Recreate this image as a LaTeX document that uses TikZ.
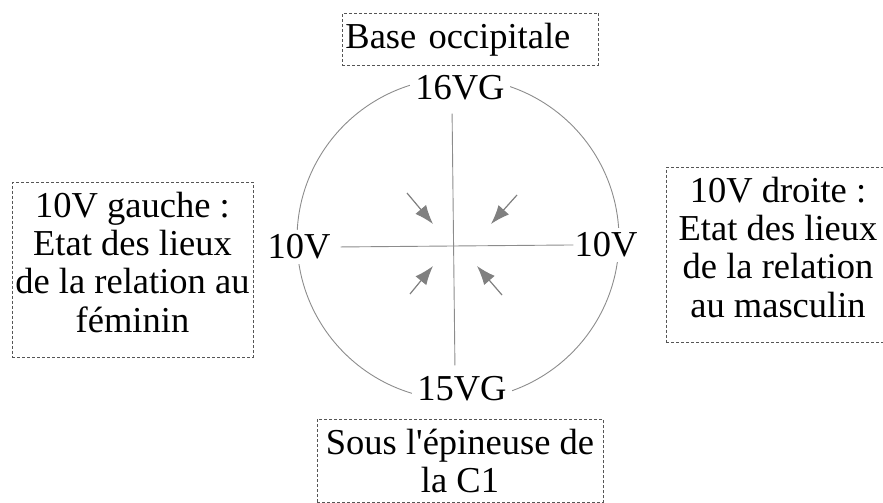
\documentclass[tikz,border=0pt]{standalone}
\usepackage{fontspec}
\setmainfont{Liberation Serif}[Ligatures=TeXOff]
\usepackage{tikz}
\usetikzlibrary{arrows.meta}
\definecolor{lineGray}{HTML}{8C8C8C}
\definecolor{arrowGray}{HTML}{808080}
\definecolor{boxGray}{HTML}{555555}
\newcommand{\bigfont}{\fontsize{36.5}{38.3}\selectfont}
\newcommand{\lastpad}{\rule[-15.5pt]{0pt}{15.5pt}}
\tikzstyle{note} = [rectangle,
draw=boxGray,
dash pattern=on 3pt off 2pt,
line width=0.8pt,
inner xsep=2pt,
inner ysep=9.5pt,
align=center,
anchor=north,
font=\bigfont]
\tikzstyle{vertebra} = [fill=white, inner sep=5pt, font=\bigfont]
\tikzstyle{cross} = [draw=lineGray, line width=0.9pt]
\tikzstyle{arrow} = [draw=arrowGray, fill=arrowGray, line width=1.2pt, -{Latex[length=19pt,width=14pt]}]

\begin{document}
\begin{tikzpicture}[x=1pt, y=-1pt]
			\path[use as bounding box, clip] (0,0) rectangle (883,503);
			
			\draw[cross] (458,239) circle[radius=161];
			
			\node (v16) [vertebra] at (460,88) {16VG};
			\node (v15) [vertebra] at (462,389) {15VG};
			\node (v10L) [vertebra] at (299,247) {10V};
			\node (v10R) [vertebra] at (606,245) {10V};
			
			\draw[cross, shorten <=5pt, shorten >=-4pt] (v10L.east) -- (v10R.west);
			\draw[cross, shorten <=8pt, shorten >=6pt] ([xshift=-8pt]v16.south) -- ([xshift=-7pt]v15.north);
			
			% fleches vers le centre
			\coordinate (fromNW) at (407,193); \coordinate (toNW) at (433,224);
			\coordinate (fromNE) at (517,195); \coordinate (toNE) at (491,224);
			\coordinate (fromSW) at (410,294); \coordinate (toSW) at (433,266);
			\coordinate (fromSE) at (502,295); \coordinate (toSE) at (477,266);
			\foreach \c in {NW,NE,SW,SE}
				\draw[arrow] (from\c) -- (to\c);
			
			\node (base) [note, anchor=north west, text width=250pt, align=left, inner xsep=3pt] at (342,13) {Base occipitale};
			\node (gauche) [note, minimum width=241pt] at (132.5,182) {10V gauche :\\Etat des lieux\\de la relation au\\féminin\lastpad};
			\node (droite) [note, minimum width=224pt] at (778,167) {10V droite :\\Etat des lieux\\de la relation\\au masculin\lastpad};
			\node (sous) [note, minimum width=286pt] at (460,419) {Sous l'épineuse de\\la C1};
		\end{tikzpicture}
\end{document}
